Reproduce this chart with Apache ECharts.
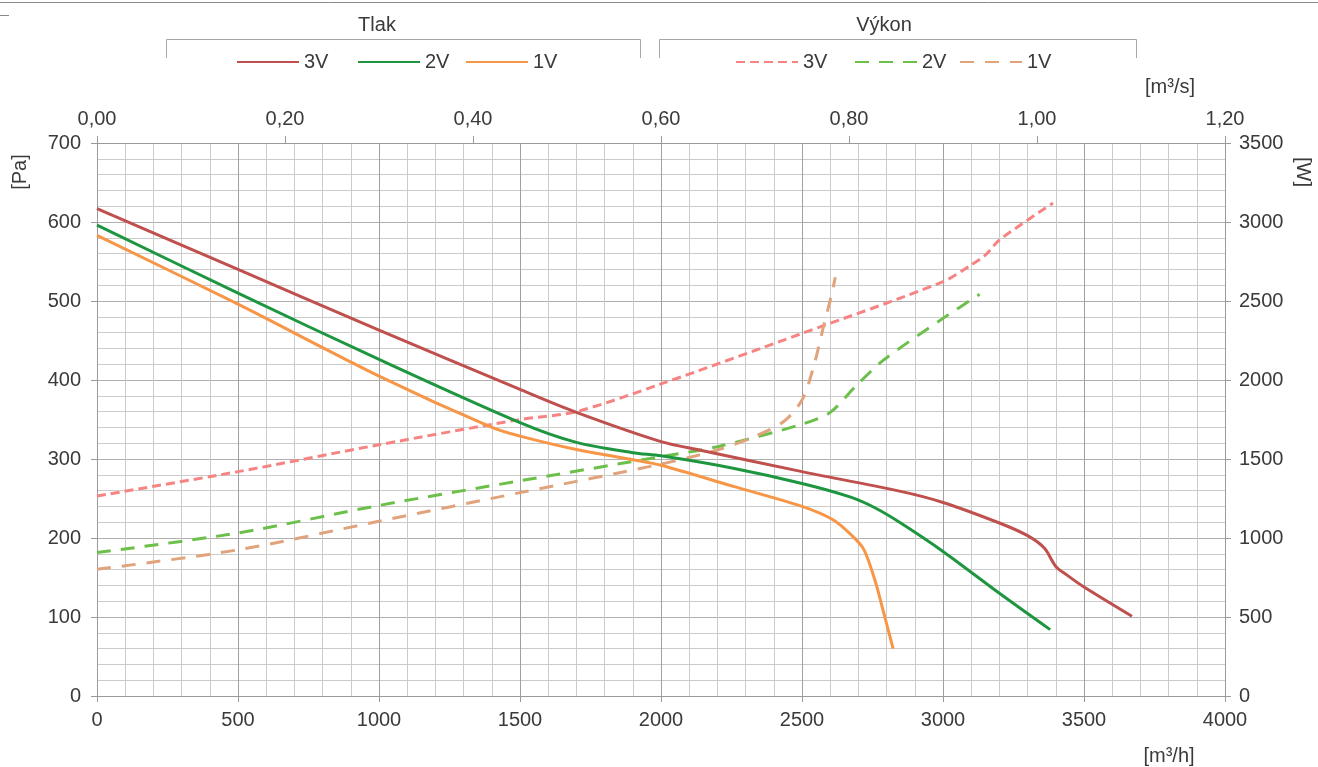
<!DOCTYPE html>
<html><head><meta charset="utf-8">
<script src="https://cdn.jsdelivr.net/npm/echarts@6/dist/echarts.min.js"></script>
<style>html,body{margin:0;padding:0;background:#fff}#c{width:1318px;height:767px}</style>
</head><body><div id="c"></div>
<script>
// ---- data ----
const groupTitles = ['Tlak', 'Výkon'];
const legendNames = ['3V', '2V', '1V'];

// Pressure [Pa] vs flow [m3/h]
const flowP3 = [0, 500, 1000, 1500, 1700, 2000, 2140, 2500, 2850, 3000, 3200, 3300, 3360, 3400, 3440, 3500, 3670];
const pres3  = [617, 540, 463, 388, 359, 322, 311, 284, 259, 245, 219, 203, 187, 164, 153, 138, 101];
const flowP2 = [0, 500, 1000, 1500, 1700, 1900, 2000, 2260, 2500, 2670, 2760, 2850, 3000, 3200, 3380];
const pres2  = [596, 510, 426, 346, 321, 308, 304, 288, 269, 252, 238, 219, 183, 130, 84];
const flowP1 = [0, 500, 1000, 1400, 1500, 1700, 1900, 2000, 2260, 2500, 2610, 2680, 2720, 2760, 2790, 2823];
const pres1  = [583, 496, 405, 340, 329, 312, 299, 292, 265, 240, 223, 202, 185, 145, 105, 60];

// Power [W] vs flow [m3/h]
const flowW3 = [0, 500, 1000, 1500, 1700, 2000, 2500, 3000, 3100, 3150, 3200, 3390];
const power3 = [1266, 1420, 1590, 1750, 1800, 1975, 2295, 2622, 2728, 2790, 2886, 3120];
const flowW2 = [0, 500, 1000, 1500, 2000, 2200, 2500, 2600, 2690, 2790, 3000, 3130];
const power2 = [908, 1032, 1206, 1362, 1515, 1578, 1720, 1795, 1960, 2127, 2390, 2542];
const flowW1 = [0, 500, 1000, 1500, 2000, 2200, 2316, 2434, 2500, 2541, 2576, 2606, 2618];
const power1 = [802, 925, 1106, 1287, 1468, 1557, 1631, 1736, 1873, 2084, 2337, 2549, 2650];

// ---- styling ----
const FONT = "'Liberation Sans', Arial, sans-serif";
const TXT = '#3a3a3a';
const FS = 20;
const colP = ['#c0504d', '#1e9640', '#f79646'];
const colW = ['#f58482', '#6cc04a', '#e0a37c'];
const dashW = [[9, 5], [14, 10], [14, 11]];
const AX = '#9a9a9a';

const pair = (xs, ys) => xs.map((x, i) => [x, ys[i]]);

const pSeries = [[flowP3, pres3], [flowP2, pres2], [flowP1, pres1]].map((d, i) => ({
  name: legendNames[i], type: 'line', xAxisIndex: 0, yAxisIndex: 0,
  data: pair(d[0], d[1]), symbol: 'none', smooth: 0.3,
  lineStyle: { color: colP[i], width: 3 }, itemStyle: { color: colP[i] }, z: 3
}));
const wSeries = [[flowW3, power3], [flowW2, power2], [flowW1, power1]].map((d, i) => ({
  name: legendNames[i] + ' ', type: 'line', xAxisIndex: 0, yAxisIndex: 1,
  data: pair(d[0], d[1]), symbol: 'none', smooth: 0.3,
  lineStyle: { color: colW[i], width: 3, type: dashW[i] }, itemStyle: { color: colW[i] }, z: 2
}));

const legendPos = [[231, 47], [352, 47], [460, 47], [730, 47], [849, 47], [954, 47]];
const legendItems = [...legendNames, ...legendNames.map(n => n + ' ')];
const legends = legendItems.map((n, i) => ({
  left: legendPos[i][0], top: legendPos[i][1], data: [n],
  itemWidth: 62, itemHeight: 14, selectedMode: false,
  itemStyle: { opacity: 0 },
  formatter: s => s.trim(),
  textStyle: { fontSize: FS, color: TXT, fontFamily: FONT }
}));

const gtext = (x, y, text, rot) => ({
  type: 'text', x: x, y: y, rotation: rot || 0,
  style: { text: text, fill: TXT, font: FS + 'px ' + FONT, textAlign: 'center', textVerticalAlign: 'middle' }
});

const plain = v => String(v);

const chart = echarts.init(document.getElementById('c'), null, { renderer: 'canvas' });
chart.setOption({
  animation: false,
  backgroundColor: '#fff',
  grid: { left: 97, right: 93, top: 143, bottom: 71 },
  legend: legends,
  xAxis: [{
    type: 'value', position: 'bottom', min: 0, max: 4000, interval: 500,
    axisLine: { show: true, onZero: false, lineStyle: { color: AX } },
    axisTick: { show: true, length: 6, lineStyle: { color: AX } },
    axisLabel: { fontSize: FS, color: TXT, fontFamily: FONT, margin: 14, formatter: plain },
    splitLine: { show: true, lineStyle: { color: '#a0a0a0', width: 1 } },
    minorTick: { show: false, splitNumber: 5 },
    minorSplitLine: { show: true, lineStyle: { color: '#cbcbcb', width: 1 } }
  }, {
    type: 'value', position: 'top', min: 0, max: 1.2, interval: 0.2,
    axisLine: { show: true, onZero: false, lineStyle: { color: AX } },
    axisTick: { show: true, length: 7, lineStyle: { color: AX } },
    axisLabel: { fontSize: FS, color: TXT, fontFamily: FONT, margin: 14,
      formatter: v => v.toFixed(2).replace('.', ',') },
    splitLine: { show: false }
  }],
  yAxis: [{
    type: 'value', position: 'left', min: 0, max: 700, interval: 100,
    axisLine: { show: true, onZero: false, lineStyle: { color: AX } },
    axisTick: { show: true, length: 6, lineStyle: { color: AX } },
    axisLabel: { fontSize: FS, color: TXT, fontFamily: FONT, margin: 16, formatter: plain },
    splitLine: { show: true, lineStyle: { color: '#b0b0b0', width: 1 } },
    minorTick: { show: false, splitNumber: 5 },
    minorSplitLine: { show: true, lineStyle: { color: '#cbcbcb', width: 1 } }
  }, {
    type: 'value', position: 'right', min: 0, max: 3500, interval: 500,
    axisLine: { show: true, onZero: false, lineStyle: { color: AX } },
    axisTick: { show: true, length: 6, lineStyle: { color: AX } },
    axisLabel: { fontSize: FS, color: TXT, fontFamily: FONT, margin: 14, formatter: plain },
    splitLine: { show: false }
  }],
  series: [...pSeries, ...wSeries],
  graphic: [
    { type: 'line', shape: { x1: 0, y1: 2.5, x2: 1318, y2: 2.5 }, style: { stroke: '#8a8a8a', lineWidth: 1 } },
    { type: 'line', shape: { x1: 0, y1: 15.5, x2: 9, y2: 15.5 }, style: { stroke: '#8a8a8a', lineWidth: 1 } },
    { type: 'polyline', shape: { points: [[166.5, 58], [166.5, 39.5], [640.5, 39.5], [640.5, 58]] }, style: { stroke: '#a6a6a6', lineWidth: 1, fill: null } },
    { type: 'polyline', shape: { points: [[659.5, 58], [659.5, 39.5], [1136.5, 39.5], [1136.5, 58]] }, style: { stroke: '#a6a6a6', lineWidth: 1, fill: null } },
    gtext(377, 25, groupTitles[0]),
    gtext(884, 25, groupTitles[1]),
    gtext(1170, 87, '[m³/s]'),
    gtext(1169, 756, '[m³/h]'),
    gtext(20, 172, '[Pa]', Math.PI / 2),
    gtext(1303, 172, '[W]', -Math.PI / 2)
  ]
});
</script></body></html>
